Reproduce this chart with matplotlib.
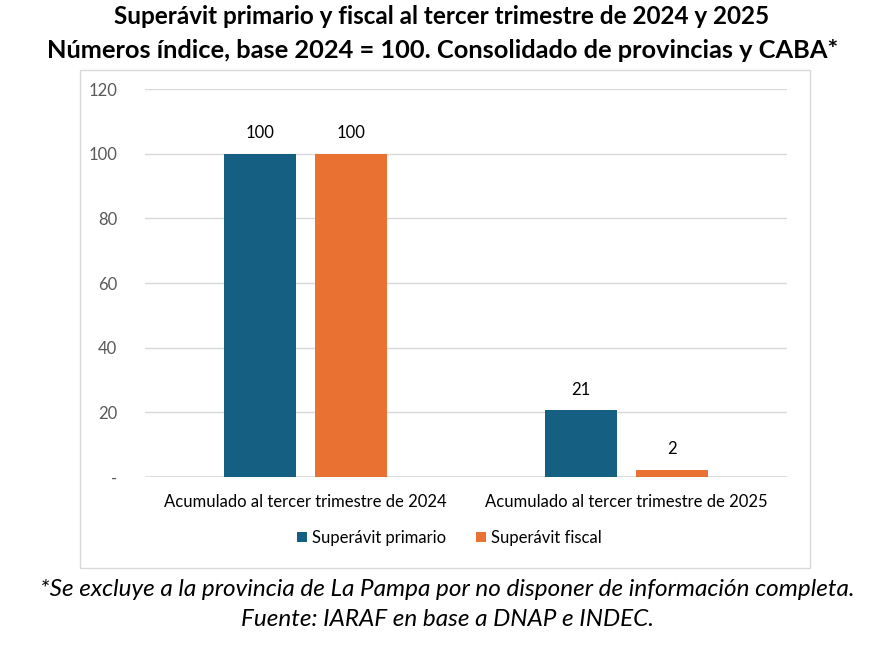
import matplotlib.pyplot as plt
from matplotlib.patches import Rectangle
import numpy as np

categorias = ["Acumulado al tercer trimestre de 2024", "Acumulado al tercer trimestre de 2025"]
series = ["Superávit primario", "Superávit fiscal"]
primario = [100, 20.7]
fiscal = [100, 2.3]
etiq_primario = ["100", "21"]
etiq_fiscal = ["100", "2"]
yticks = [0, 20, 40, 60, 80, 100, 120]
ytick_labels = ["-", "20", "40", "60", "80", "100", "120"]

colores = ["#156082", "#E97132"]

plt.rcParams["font.family"] = ["Lato", "DejaVu Sans"]

fig = plt.figure(figsize=(8.76, 6.54), dpi=100)

# marco del grafico
fig.patches.append(Rectangle((80 / 876, 1 - 568 / 654), 730 / 876, 498 / 654,
                             transform=fig.transFigure, fill=False,
                             edgecolor="#D9D9D9", linewidth=1))

ax = fig.add_axes([145 / 876, 1 - 477 / 654, 642 / 876, 388 / 654])

x = np.arange(len(categorias))
w = 0.224
off = 0.142
b1 = ax.bar(x - off, primario, w, color=colores[0], label=series[0], zorder=3)
b2 = ax.bar(x + off, fiscal, w, color=colores[1], label=series[1], zorder=3)

for barras, etiqs in ((b1, etiq_primario), (b2, etiq_fiscal)):
    for b, t in zip(barras, etiqs):
        ax.annotate(t, (b.get_x() + b.get_width() / 2, b.get_height()),
                    xytext=(0, 9), textcoords="offset points",
                    ha="center", va="bottom", fontsize=12, color="#000000")

ax.set_xlim(-0.5, 1.5)
ax.set_ylim(0, 120)
ax.set_yticks(yticks)
ax.set_yticklabels(ytick_labels)
ax.set_xticks(x)
ax.set_xticklabels(categorias)
ax.tick_params(axis="y", length=0, pad=20, labelsize=12, labelcolor="#595959")
ax.tick_params(axis="x", length=0, pad=12, labelsize=12, labelcolor="#000000")
ax.grid(axis="y", color="#D9D9D9", linewidth=1, zorder=0)
for s in ax.spines.values():
    s.set_visible(False)
ax.axhline(0, color="#D9D9D9", linewidth=1.2, zorder=2)

fig.legend(handles=[b1, b2], labels=series, loc="center",
           bbox_to_anchor=(449 / 876, 1 - 538 / 654), ncol=2, frameon=False,
           fontsize=12, handlelength=0.6, handleheight=0.6, handletextpad=0.3,
           columnspacing=1.8)

fig.text(442 / 876, 1 - 17 / 654, "Superávit primario y fiscal al tercer trimestre de 2024 y 2025",
         ha="center", va="center", fontsize=17.5, fontweight="bold")
fig.text(443 / 876, 1 - 50 / 654, "Números índice, base 2024 = 100. Consolidado de provincias y CABA*",
         ha="center", va="center", fontsize=18.3, fontweight="bold")
fig.text(447 / 876, 1 - 589 / 654,
         "*Se excluye a la provincia de La Pampa por no disponer de información completa.",
         ha="center", va="center", fontsize=17.5, style="italic")
fig.text(447 / 876, 1 - 620 / 654, "Fuente: IARAF en base a DNAP e INDEC.",
         ha="center", va="center", fontsize=17.5, style="italic")

fig.savefig("out.png", dpi=100)
